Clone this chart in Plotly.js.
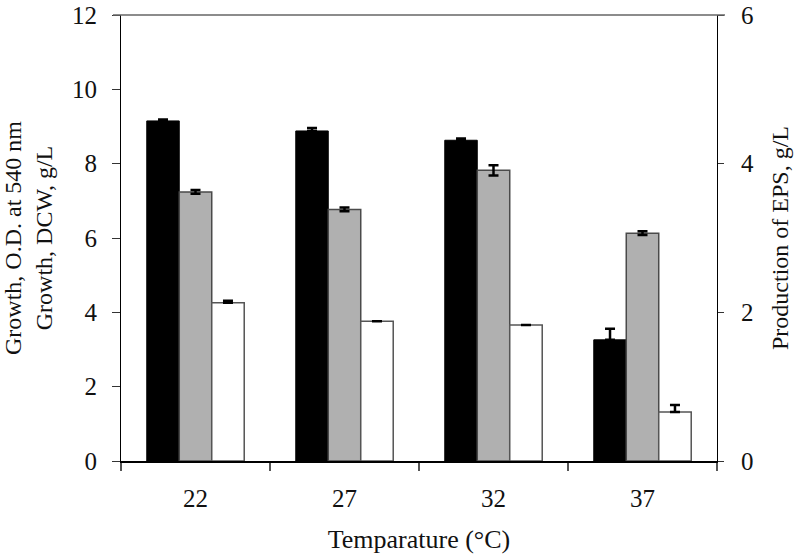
<!DOCTYPE html>
<html>
<head>
<meta charset="utf-8">
<script src="https://cdn.plot.ly/plotly-3.0.1.min.js"></script>
<style>
  html, body { margin: 0; padding: 0; background: #fff; }
  #chart { width: 798px; height: 556px; }
</style>
</head>
<body>
<div id="chart"></div>
<script>
// temperatures on the x axis
const temps = ['22', '27', '32', '37'];

// growth, O.D. at 540 nm (left axis)
const odValues = [9.15, 8.88, 8.63, 3.26];
const odErr = [0.04, 0.08, 0.05, 0.30];

// growth, DCW g/L (left axis)
const dcwValues = [7.24, 6.77, 7.82, 6.13];
const dcwErr = [0.05, 0.05, 0.14, 0.05];

// EPS production g/L (right axis)
const epsValues = [2.13, 1.88, 1.83, 0.66];
const epsErr = [0.025, 0, 0, 0.095];

const leftTicks = [0, 2, 4, 6, 8, 10, 12];
const rightTicks = [0, 2, 4, 6];

const serif = 'Liberation Serif, Times New Roman, serif';
const barW = 0.218;

function errUp (arr) {
  return {
    type: 'data', array: arr, arrayminus: arr.map(() => 0), symmetric: false,
    color: '#000', thickness: 2.5, width: 5
  };
}

const traces = [
  {
    type: 'bar', x: temps, y: odValues, yaxis: 'y',
    width: barW, offset: -1.5 * barW,
    marker: { color: '#000', line: { color: '#000', width: 1 } },
    error_y: errUp(odErr),
    name: 'O.D.'
  },
  {
    type: 'bar', x: temps, y: dcwValues, yaxis: 'y',
    width: barW, offset: -0.5 * barW,
    marker: { color: '#b0b0b0', line: { color: '#4a4a4a', width: 1.5 } },
    error_y: { type: 'data', array: dcwErr, color: '#000', thickness: 2.5, width: 5 },
    name: 'DCW'
  },
  {
    type: 'bar', x: temps, y: epsValues, yaxis: 'y2',
    width: barW, offset: 0.5 * barW,
    marker: { color: '#fff', line: { color: '#555', width: 1.5 } },
    error_y: errUp(epsErr),
    name: 'EPS'
  }
];

const layout = {
  width: 798,
  height: 556,
  margin: { l: 121, r: 81, t: 15, b: 95 },
  paper_bgcolor: '#fff',
  plot_bgcolor: '#fff',
  showlegend: false,
  barmode: 'overlay',
  font: { family: serif, size: 24, color: '#000' },
  xaxis: {
    type: 'category',
    tickson: 'boundaries',
    ticks: 'outside', ticklen: 8, tickcolor: '#555', tickwidth: 1.5,
    showline: true, linecolor: '#000', linewidth: 1.5,
    showgrid: false, zeroline: false,
    tickfont: { family: serif, size: 25, color: '#111' },
    ticklabelstandoff: 14,
    title: { text: 'Temparature (°C)', font: { family: serif, size: 26, color: '#111' }, standoff: 19 }
  },
  yaxis: {
    range: [0, 12],
    tickvals: leftTicks,
    ticks: 'outside', ticklen: 8, tickcolor: '#333', tickwidth: 1,
    showline: true, linecolor: '#000', linewidth: 1,
    showgrid: false, zeroline: false,
    tickfont: { family: serif, size: 25, color: '#111' },
    ticklabelstandoff: 10,
    title: {
      text: 'Growth, O.D. at 540 nm<br>Growth, DCW, g/L',
      font: { family: serif, size: 24, color: '#111' }, standoff: 13
    }
  },
  yaxis2: {
    range: [0, 6],
    overlaying: 'y',
    side: 'right',
    tickvals: rightTicks,
    ticks: 'outside', ticklen: 6, tickcolor: '#333', tickwidth: 1,
    showline: true, linecolor: '#000', linewidth: 1,
    showgrid: false, zeroline: false,
    tickfont: { family: serif, size: 25, color: '#111' },
    ticklabelstandoff: 12,
    title: { text: 'Production of EPS, g/L', font: { family: serif, size: 24, color: '#111' }, standoff: 18 }
  },
  shapes: [
    // top frame line, extends past both axes like the ticks
    {
      type: 'line', xref: 'paper', yref: 'paper',
      x0: -0.0134, x1: 1.0134, y0: 1, y1: 1,
      line: { color: '#666', width: 1.5 }
    }
  ]
};

Plotly.newPlot('chart', traces, layout, { displayModeBar: false, staticPlot: true });
</script>
</body>
</html>
